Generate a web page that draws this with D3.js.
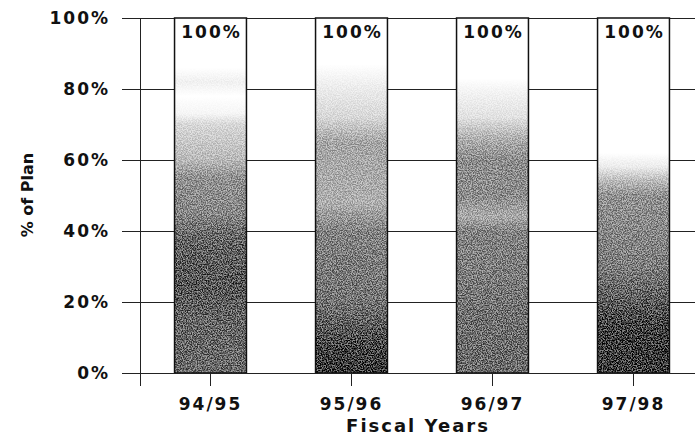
<!DOCTYPE html>
<html>
<head>
<meta charset="utf-8">
<script src="https://cdn.jsdelivr.net/npm/d3@7"></script>
<style>
  body { margin: 0; background: #fff; }
  svg { display: block; }
  text { font-family: "DejaVu Sans", Verdana, sans-serif; font-weight: bold; fill: #111; }
</style>
</head>
<body>
<svg id="chart" width="695" height="438"></svg>
<script>
var years = ["94/95", "95/96", "96/97", "97/98"];
var pctOfPlan = [100, 100, 100, 100];
var yTicks = [0, 20, 40, 60, 80, 100];

// shading of each bar, bottom (0) to top (1), as grey levels
var shades = [
  [[0, 105], [0.15, 100], [0.25, 85], [0.38, 100], [0.45, 135], [0.55, 145], [0.6, 185], [0.7, 215], [0.73, 245], [0.78, 255], [0.82, 240], [0.86, 255], [1, 255]],
  [[0, 50], [0.08, 70], [0.2, 115], [0.4, 130], [0.48, 175], [0.55, 170], [0.65, 165], [0.72, 215], [0.8, 235], [0.87, 255], [1, 255]],
  [[0, 105], [0.15, 110], [0.3, 125], [0.4, 130], [0.44, 170], [0.5, 140], [0.6, 140], [0.66, 175], [0.72, 225], [0.8, 245], [0.83, 255], [1, 255]],
  [[0, 55], [0.12, 60], [0.2, 90], [0.3, 125], [0.4, 135], [0.5, 145], [0.54, 185], [0.58, 235], [0.62, 255], [1, 255]]
];

var svg = d3.select("#chart"),
  margin = { top: 18, left: 140, bottom: 65 },
  height = 438 - margin.top - margin.bottom,
  width = 564;

var x = d3.scaleBand()
  .domain(years)
  .range([0, width])
  .paddingInner(0.49)
  .paddingOuter(0.245);

var y = d3.scaleLinear()
  .domain([0, 100])
  .range([height, 0]);

var defs = svg.append("defs");

shades.forEach(function(s, i) {
  var g = defs.append("linearGradient")
    .attr("id", "shade" + i)
    .attr("x1", 0).attr("y1", 1).attr("x2", 0).attr("y2", 0);
  s.forEach(function(st) {
    g.append("stop")
      .attr("offset", st[0])
      .attr("stop-color", d3.rgb(st[1], st[1], st[1]));
  });
});

// grainy halftone look, noise fades out toward white
var amp = 0.8;
var f = defs.append("filter")
  .attr("id", "grain")
  .attr("x", 0).attr("y", 0).attr("width", 1).attr("height", 1)
  .attr("color-interpolation-filters", "sRGB");
f.append("feTurbulence")
  .attr("type", "fractalNoise")
  .attr("baseFrequency", 0.8)
  .attr("numOctaves", 2)
  .attr("seed", 7)
  .attr("result", "noise");
f.append("feColorMatrix")
  .attr("in", "noise")
  .attr("type", "matrix")
  .attr("values", "3 0 0 0 -1  3 0 0 0 -1  3 0 0 0 -1  0 0 0 0 1")
  .attr("result", "noiseGrey");
f.append("feComposite")
  .attr("in", "SourceGraphic")
  .attr("in2", "noiseGrey")
  .attr("operator", "arithmetic")
  .attr("k1", -amp).attr("k2", 1 + amp / 2).attr("k3", amp).attr("k4", -amp / 2)
  .attr("result", "mixed");
var ct = f.append("feComponentTransfer").attr("in", "mixed");
ct.append("feFuncA").attr("type", "linear").attr("slope", 0).attr("intercept", 1);

var chart = svg.append("g")
  .attr("transform", "translate(" + margin.left + "," + margin.top + ")");

// grid lines
chart.append("g")
  .selectAll("line")
  .data(yTicks)
  .enter().append("line")
  .attr("x1", 0).attr("x2", width)
  .attr("y1", function(d) { return Math.round(y(d)) + 0.5; })
  .attr("y2", function(d) { return Math.round(y(d)) + 0.5; })
  .attr("stroke", "#222")
  .attr("stroke-width", 1);

var yAxis = chart.append("g")
  .call(d3.axisLeft(y).tickValues(yTicks).tickSize(18).tickPadding(12)
    .tickFormat(function(d) { return d + "%"; }));
yAxis.select(".domain").attr("stroke", "#222");
yAxis.selectAll(".tick line").attr("stroke", "#222");
yAxis.selectAll("text")
  .style("font-size", "17px")
  .style("letter-spacing", "2px")
  .attr("fill", "#111");

var bars = chart.append("g")
  .selectAll("g")
  .data(years)
  .enter().append("g");

bars.append("rect")
  .attr("x", function(d) { return x(d); })
  .attr("y", function(d, i) { return y(pctOfPlan[i]); })
  .attr("width", x.bandwidth())
  .attr("height", function(d, i) { return height - y(pctOfPlan[i]); })
  .attr("fill", function(d, i) { return "url(#shade" + i + ")"; })
  .attr("filter", "url(#grain)");

bars.append("rect")
  .attr("x", function(d) { return x(d); })
  .attr("y", function(d, i) { return y(pctOfPlan[i]); })
  .attr("width", x.bandwidth())
  .attr("height", function(d, i) { return height - y(pctOfPlan[i]); })
  .attr("fill", "none")
  .attr("stroke", "#111")
  .attr("stroke-width", 1.5);

bars.append("text")
  .attr("x", function(d) { return x(d) + x.bandwidth() / 2 + 1; })
  .attr("y", function(d, i) { return y(pctOfPlan[i]) + 20; })
  .attr("text-anchor", "middle")
  .style("font-size", "17px")
  .style("letter-spacing", "2px")
  .text(function(d, i) { return pctOfPlan[i] + "%"; });

var xAxis = chart.append("g")
  .attr("transform", "translate(0," + height + ")")
  .call(d3.axisBottom(x).tickSize(13).tickPadding(12));
xAxis.select(".domain").attr("stroke", "#222");
xAxis.selectAll(".tick line").attr("stroke", "#222");
xAxis.selectAll("text")
  .style("font-size", "17px")
  .style("letter-spacing", "2px")
  .attr("fill", "#111");

svg.append("text")
  .attr("x", 418)
  .attr("y", 432)
  .attr("text-anchor", "middle")
  .style("font-size", "18px")
  .style("letter-spacing", "2px")
  .text("Fiscal Years");

svg.append("text")
  .attr("transform", "translate(33,195) rotate(-90)")
  .attr("text-anchor", "middle")
  .style("font-size", "16px")
  .text("% of Plan");
</script>
</body>
</html>
